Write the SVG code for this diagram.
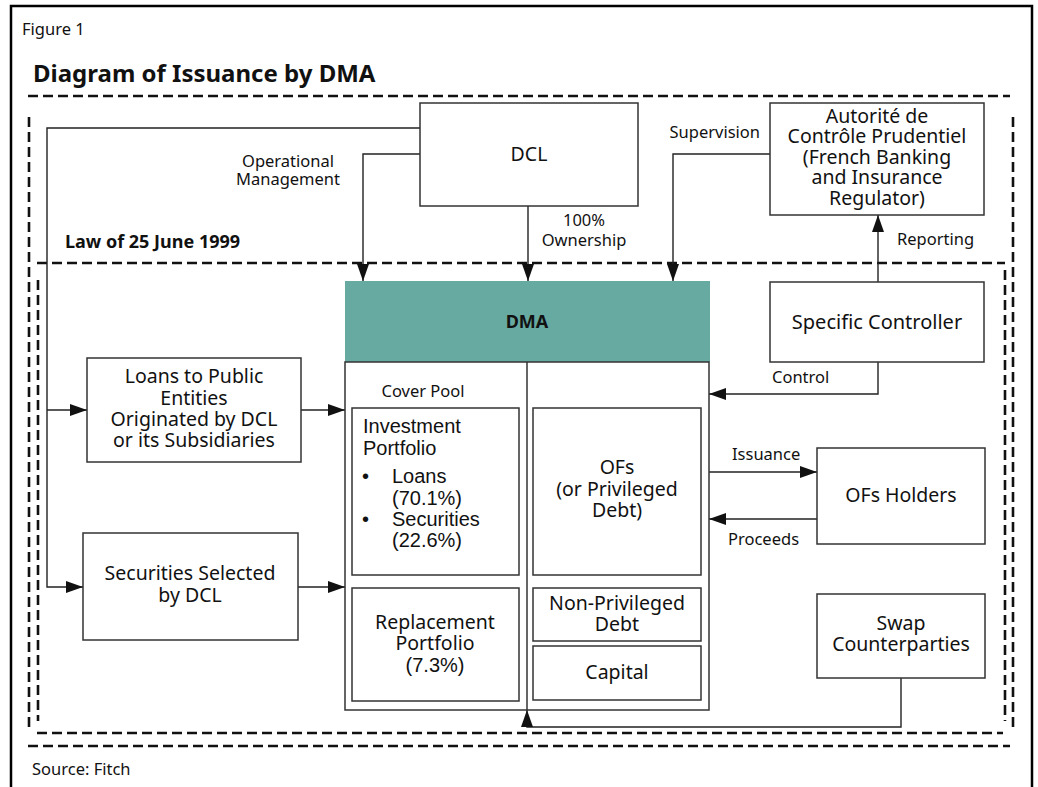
<svg xmlns="http://www.w3.org/2000/svg" width="1038" height="787" viewBox="0 0 1038 787">
<defs>
<marker id="ah" markerUnits="userSpaceOnUse" markerWidth="17" markerHeight="12" refX="17" refY="6" orient="auto">
<path d="M0,0 L17,6 L0,12 z" fill="#111"/>
</marker>
<style>
.box{fill:#fff;stroke:#333;stroke-width:1.5}
.con{fill:none;stroke:#222;stroke-width:1.4}
.dash{fill:none;stroke:#111;stroke-width:2.6;stroke-dasharray:10 5}
.t{font-family:"Noto Sans","Open Sans",sans-serif;font-size:19.5px;fill:#111;text-anchor:middle}
.a{font-family:"Liberation Sans",Arial,sans-serif;font-size:20px;fill:#111}
.lb{font-family:"Noto Sans","Open Sans",sans-serif;font-size:16.5px;fill:#111}
.c{text-anchor:middle}
.b{font-weight:bold}
</style>
</defs>
<rect width="1038" height="787" fill="#fff"/>
<path d="M11,792 V6 H1032 V792" fill="none" stroke="#000" stroke-width="2.5"/>
<text class="lb" x="22" y="35">Figure 1</text>
<text class="lb b" x="33" y="82" style="font-size:24px">Diagram of Issuance by DMA</text>
<text class="lb b" x="65" y="248" style="font-size:18px">Law of 25 June 1999</text>
<text class="lb" x="32" y="775">Source: Fitch</text>
<g id="frames">
<path class="dash" d="M28,96 H1010 M29,117 V727 M1013,117 V727 M28,746 H1010"/>
<path class="dash" d="M37,263 H1005 M38,280 V721 M1005,270 V721 M37,733 H1003"/>
</g>
<g id="connectors">
<path class="con" d="M420,128 H47 V587 H83" marker-end="url(#ah)"/>
<path class="con" d="M47,410 H87" marker-end="url(#ah)"/>
<path class="con" d="M301,410 H345" marker-end="url(#ah)"/>
<path class="con" d="M298,587 H345" marker-end="url(#ah)"/>
<path class="con" d="M420,154 H363 V281" marker-end="url(#ah)"/>
<path class="con" d="M528,206 V281" marker-end="url(#ah)"/>
<path class="con" d="M770,154 H673 V281" marker-end="url(#ah)"/>
<path class="con" d="M878,282 V215" marker-end="url(#ah)"/>
<path class="con" d="M878,362 V394 H709" marker-end="url(#ah)"/>
<path class="con" d="M709,472 H817" marker-end="url(#ah)"/>
<path class="con" d="M817,519 H709" marker-end="url(#ah)"/>
<path class="con" d="M901,678 V727 H527 V710" marker-end="url(#ah)"/>
<text class="lb c" x="288" y="167">Operational</text>
<text class="lb c" x="288" y="185">Management</text>
<text class="lb c" x="584" y="226">100%</text>
<text class="lb c" x="584" y="246">Ownership</text>
<text class="lb" x="760" y="138" text-anchor="end">Supervision</text>
<text class="lb" x="897" y="245">Reporting</text>
<text class="lb" x="772" y="383">Control</text>
<text class="lb" x="732" y="460">Issuance</text>
<text class="lb" x="728" y="545">Proceeds</text>
</g>
<g id="dcl">
<rect class="box" x="420" y="103" width="218" height="103"/>
<text class="t" x="529" y="161">DCL</text>
</g>
<g id="regulator">
<rect class="box" x="770" y="103" width="214" height="112"/>
<text class="t" x="877" y="123">Autorité de</text>
<text class="t" x="877" y="143">Contrôle Prudentiel</text>
<text class="t" x="877" y="164">(French Banking</text>
<text class="t" x="877" y="184">and Insurance</text>
<text class="t" x="877" y="205">Regulator)</text>
</g>
<g id="controller">
<rect class="box" x="770" y="282" width="214" height="80"/>
<text class="t" x="877" y="329" style="font-size:20px">Specific Controller</text>
</g>
<g id="loans">
<rect class="box" x="87" y="358" width="214" height="104"/>
<text class="t" x="194" y="383">Loans to Public</text>
<text class="t" x="194" y="405">Entities</text>
<text class="t" x="194" y="426">Originated by DCL</text>
<text class="t" x="194" y="447">or its Subsidiaries</text>
</g>
<g id="securities">
<rect class="box" x="83" y="533" width="215" height="107"/>
<text class="t" x="190" y="580">Securities Selected</text>
<text class="t" x="190" y="602">by DCL</text>
</g>
<g id="dma">
<rect x="345" y="281" width="365" height="81" fill="#67AAA2"/>
<text class="t b" x="527" y="328" style="font-size:18px">DMA</text>
<rect class="box" x="345" y="362" width="364" height="348"/>
<line x1="527" y1="362" x2="527" y2="710" stroke="#333" stroke-width="1.5"/>
<text class="lb c" x="423" y="397">Cover Pool</text>
</g>
<g id="investment">
<rect class="box" x="352" y="408" width="167" height="167"/>
<text class="a" x="363" y="433">Investment</text>
<text class="a" x="363" y="455">Portfolio</text>
<text class="a" x="362" y="483">•</text>
<text class="a" x="392" y="483">Loans</text>
<text class="a" x="392" y="505">(70.1%)</text>
<text class="a" x="362" y="526">•</text>
<text class="a" x="392" y="526">Securities</text>
<text class="a" x="392" y="547">(22.6%)</text>
</g>
<g id="replacement">
<rect class="box" x="352" y="588" width="167" height="113"/>
<text class="t" x="435" y="629">Replacement</text>
<text class="t" x="435" y="650">Portfolio</text>
<text class="a c" x="435" y="672">(7.3%)</text>
</g>
<g id="ofs">
<rect class="box" x="533" y="408" width="168" height="167"/>
<text class="t" x="617" y="474">OFs</text>
<text class="t" x="617" y="496">(or Privileged</text>
<text class="t" x="617" y="517">Debt)</text>
</g>
<g id="nonpriv">
<rect class="box" x="533" y="588" width="168" height="53"/>
<text class="t" x="617" y="610">Non-Privileged</text>
<text class="t" x="617" y="631">Debt</text>
</g>
<g id="capital">
<rect class="box" x="533" y="646" width="168" height="54"/>
<text class="t" x="617" y="679">Capital</text>
</g>
<g id="holders">
<rect class="box" x="817" y="448" width="168" height="96"/>
<text class="t" x="901" y="502">OFs Holders</text>
</g>
<g id="swap">
<rect class="box" x="817" y="594" width="168" height="84"/>
<text class="t" x="901" y="630">Swap</text>
<text class="t" x="901" y="651">Counterparties</text>
</g>
</svg>
